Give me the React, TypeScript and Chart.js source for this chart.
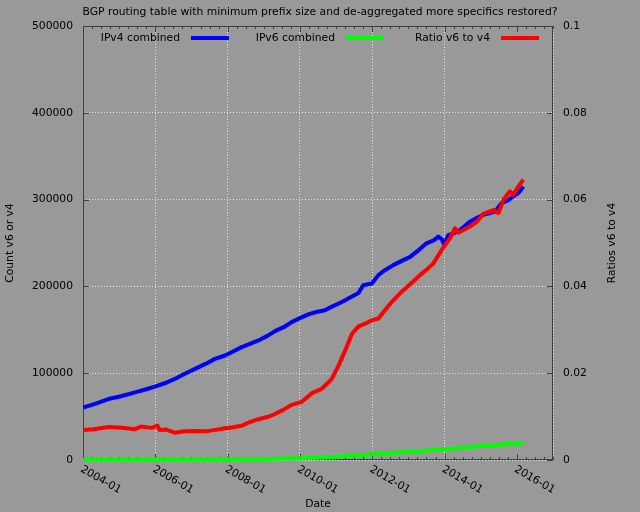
import React, { useEffect, useRef } from "react";
import { Chart, registerables } from "chart.js";

Chart.register(...registerables);

const chartTitle =
  "BGP routing table with minimum prefix size and de-aggregated more specifics restored?";
const seriesNames = ["IPv4 combined", "IPv6 combined", "Ratio v6 to v4"];
const seriesColors = ["#0000ff", "#00ff00", "#ff0000"];
const leftAxisTitle = "Count v6 or v4";
const rightAxisTitle = "Ratios v6 to v4";
const xAxisTitle = "Date";
const xTickYears = [2004, 2006, 2008, 2010, 2012, 2014, 2016];
const xTickLabels = ["2004-01", "2006-01", "2008-01", "2010-01", "2012-01", "2014-01", "2016-01"];

const ipv4Dates = [
  2004.0, 2004.35, 2004.7, 2005.05, 2005.44, 2005.75, 2005.99, 2006.3, 2006.54, 2006.8,
  2007.1, 2007.4, 2007.65, 2007.93, 2008.11, 2008.39, 2008.6, 2008.85, 2009.1, 2009.31,
  2009.55, 2009.77, 2010.0, 2010.23, 2010.45, 2010.69, 2010.9, 2011.16, 2011.4, 2011.62,
  2011.75, 2011.99, 2012.17, 2012.35, 2012.58, 2012.86, 2013.05, 2013.23, 2013.5, 2013.7,
  2013.83, 2013.93, 2013.99, 2014.1, 2014.25, 2014.43, 2014.7, 2014.9, 2015.07, 2015.25,
  2015.4, 2015.58, 2015.75, 2015.9, 2016.05, 2016.18,
];
const ipv4Counts = [
  60500, 65000, 70200, 73500, 77900, 81500, 84500, 89000, 93400, 99000,
  105000, 111000, 116500, 120400, 124200, 130000, 133500, 137700, 143000, 148500,
  153000, 158900, 163500, 167800, 170500, 172500, 177000, 182000, 187500, 192500,
  201400, 203300, 213000, 218700, 224500, 230300, 234000, 240000, 249600, 253000,
  257300, 254000, 247700, 259000, 261000, 265000, 274600, 279000, 282400, 284500,
  286200, 296000, 299000, 303600, 308000, 315100,
];

const ipv6Dates = [
  2004.0, 2005.0, 2006.0, 2007.0, 2008.0, 2009.0, 2009.5, 2010.0, 2010.5, 2011.0,
  2011.5, 2012.0, 2012.5, 2013.0, 2013.5, 2014.0, 2014.5, 2015.0, 2015.5, 2015.9, 2016.18,
];
const ipv6Counts = [
  420, 500, 600, 700, 900, 1200, 1600, 2100, 2700, 3800,
  5200, 6600, 8000, 9500, 11000, 12400, 14200, 16000, 17500, 18900, 20000,
];

const ratioDates = [
  2004.0, 2004.3, 2004.7, 2005.0, 2005.2, 2005.44, 2005.6, 2005.9, 2006.06, 2006.12,
  2006.3, 2006.54, 2006.8, 2007.1, 2007.4, 2007.7, 2007.93, 2008.11, 2008.39, 2008.6,
  2008.85, 2009.1, 2009.31, 2009.55, 2009.77, 2010.05, 2010.33, 2010.6, 2010.88, 2011.07,
  2011.25, 2011.44, 2011.62, 2011.8, 2011.99, 2012.17, 2012.35, 2012.55, 2012.77, 2013.05,
  2013.32, 2013.5, 2013.69, 2013.92, 2014.15, 2014.29, 2014.38, 2014.55, 2014.7, 2014.89,
  2015.07, 2015.35, 2015.49, 2015.63, 2015.81, 2015.9, 2016.04, 2016.18,
];
const ratioValues = [
  0.0069, 0.0071, 0.0076, 0.0075, 0.0073, 0.0071, 0.0077, 0.0074, 0.0079, 0.0069,
  0.007, 0.0063, 0.0066, 0.0067, 0.0066, 0.007, 0.0073, 0.0075, 0.0079, 0.0087,
  0.0094, 0.0099, 0.0106, 0.0116, 0.0127, 0.0134, 0.0154, 0.0164, 0.0187, 0.0218,
  0.0252, 0.0291, 0.0308, 0.0314, 0.0322, 0.0326, 0.0345, 0.0365, 0.0384, 0.0405,
  0.0426, 0.0438, 0.0453, 0.0484, 0.0511, 0.0534, 0.0524, 0.0531, 0.0538, 0.0549,
  0.0567, 0.0576, 0.0569, 0.06, 0.0619, 0.0611, 0.063, 0.0646,
];

const FONT = "DejaVu Sans";
const FONT_SIZE = 10.75;
const BG = "#999999";

const toPoints = (xs: number[], ys: number[]) => xs.map((x, i) => ({ x, y: ys[i] }));

const decorPlugin = {
  id: "gnuplotDecor",
  beforeDatasetsDraw(chart: any) {
    const { ctx, chartArea } = chart;
    const { left, right, top, bottom } = chartArea;
    const xs = chart.scales.x;
    const yl = chart.scales.y;
    const yr = chart.scales.y1;
    ctx.save();
    ctx.strokeStyle = "#404040";
    ctx.lineWidth = 1;
    ctx.beginPath();
    ctx.rect(left + 0.5, top + 0.5, right - left - 1, bottom - top - 1);
    for (let q = 0; q <= 52; q++) {
      const v = 2004 + q * 0.25;
      const px = Math.round(xs.getPixelForValue(v)) + 0.5;
      const len = q % 8 === 0 ? 6 : 3;
      ctx.moveTo(px, bottom);
      ctx.lineTo(px, bottom - len);
      ctx.moveTo(px, top);
      ctx.lineTo(px, top + len);
    }
    yl.ticks.forEach((t: any) => {
      const py = Math.round(yl.getPixelForValue(t.value)) + 0.5;
      ctx.moveTo(left, py);
      ctx.lineTo(left + 6, py);
    });
    yr.ticks.forEach((t: any) => {
      const py = Math.round(yr.getPixelForValue(t.value)) + 0.5;
      ctx.moveTo(right, py);
      ctx.lineTo(right - 6, py);
    });
    ctx.stroke();
    ctx.restore();
  },
  afterDraw(chart: any) {
    const { ctx, chartArea } = chart;
    const { left, right, top, bottom } = chartArea;
    const xs = chart.scales.x;
    const midY = (top + bottom) / 2;
    ctx.save();
    ctx.fillStyle = "#000000";
    ctx.font = `${FONT_SIZE}px "${FONT}"`;
    ctx.textAlign = "center";
    ctx.textBaseline = "alphabetic";
    ctx.fillText(chartTitle, chart.width / 2, 15);
    ctx.fillText(xAxisTitle, (left + right) / 2, 507);
    ctx.save();
    ctx.translate(13, midY);
    ctx.rotate(-Math.PI / 2);
    ctx.fillText(leftAxisTitle, 0, 0);
    ctx.restore();
    ctx.save();
    ctx.translate(615, midY);
    ctx.rotate(-Math.PI / 2);
    ctx.fillText(rightAxisTitle, 0, 0);
    ctx.restore();
    ctx.textAlign = "left";
    ctx.textBaseline = "top";
    xTickYears.forEach((yr, i) => {
      const px = xs.getPixelForValue(yr);
      ctx.save();
      ctx.translate(px + 1, bottom + 4);
      ctx.rotate(Math.PI / 6);
      ctx.fillText(xTickLabels[i], 0, 0);
      ctx.restore();
    });
    ctx.textAlign = "right";
    ctx.textBaseline = "alphabetic";
    seriesNames.forEach((name, i) => {
      const lx = left + 108 + i * 155;
      ctx.fillStyle = "#000000";
      ctx.fillText(name, lx - 11, 41);
      ctx.strokeStyle = seriesColors[i];
      ctx.lineWidth = 4;
      ctx.beginPath();
      ctx.moveTo(lx, 38);
      ctx.lineTo(lx + 38, 38);
      ctx.stroke();
    });
    ctx.restore();
  },
};

export default function App() {
  const canvasRef = useRef<HTMLCanvasElement | null>(null);

  useEffect(() => {
    document.body.style.margin = "0";
    const canvas = canvasRef.current;
    if (!canvas) return;
    const gridColor = "rgba(235,235,235,0.9)";
    const chart = new Chart(canvas, {
      type: "line",
      data: {
        datasets: [
          {
            label: seriesNames[0],
            data: toPoints(ipv4Dates, ipv4Counts),
            borderColor: seriesColors[0],
            yAxisID: "y",
            order: 3,
          },
          {
            label: seriesNames[1],
            data: toPoints(ipv6Dates, ipv6Counts),
            borderColor: seriesColors[1],
            yAxisID: "y",
            order: 2,
            clip: { left: 0, top: 0, right: 0, bottom: 1 },
          },
          {
            label: seriesNames[2],
            data: toPoints(ratioDates, ratioValues),
            borderColor: seriesColors[2],
            yAxisID: "y1",
            order: 1,
          },
        ],
      },
      options: {
        responsive: false,
        animation: false,
        devicePixelRatio: 1,
        layout: { padding: { top: 26, left: 0, right: 0, bottom: 0 } },
        elements: {
          line: { borderWidth: 4, tension: 0, borderJoinStyle: "round", borderCapStyle: "butt", fill: false },
          point: { radius: 0, hoverRadius: 0 },
        },
        plugins: {
          legend: { display: false },
          title: { display: false },
          tooltip: { enabled: false },
        },
        events: [],
        scales: {
          x: {
            type: "linear",
            min: 2004,
            max: 2017,
            ticks: { stepSize: 2, display: false },
            grid: { color: gridColor, lineWidth: 1, drawTicks: false },
            border: { display: false, dash: [1, 2] },
            afterFit: (s: any) => {
              s.height = 52;
            },
          },
          y: {
            type: "linear",
            position: "left",
            min: 0,
            max: 500000,
            ticks: {
              stepSize: 100000,
              color: "#000000",
              padding: 10,
              font: { family: FONT, size: FONT_SIZE },
              callback: (v: any) => String(v),
            },
            grid: { color: gridColor, lineWidth: 1, drawTicks: false },
            border: { display: false, dash: [1, 2] },
            afterFit: (s: any) => {
              s.width = 83;
            },
          },
          y1: {
            type: "linear",
            position: "right",
            min: 0,
            max: 0.1,
            ticks: {
              stepSize: 0.02,
              color: "#000000",
              padding: 10,
              font: { family: FONT, size: FONT_SIZE },
              callback: (v: any) => String(Number(Number(v).toFixed(2))),
            },
            grid: { display: false, drawTicks: false },
            border: { display: false },
            afterFit: (s: any) => {
              s.width = 87;
            },
          },
        },
      },
      plugins: [decorPlugin],
    } as any);
    return () => chart.destroy();
  }, []);

  return (
    <div
      style={{
        position: "absolute",
        left: 0,
        top: 0,
        width: 640,
        height: 512,
        background: BG,
      }}
    >
      <canvas ref={canvasRef} width={640} height={512} style={{ display: "block" }} />
    </div>
  );
}
